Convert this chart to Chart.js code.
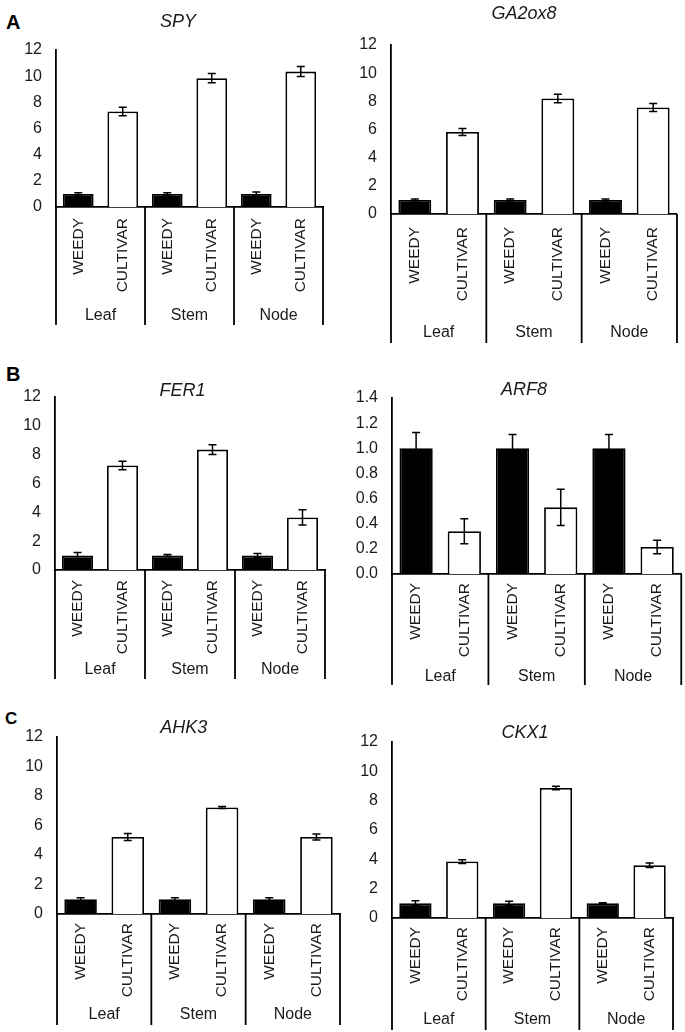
<!DOCTYPE html>
<html>
<head>
<meta charset="utf-8">
<script src="https://cdn.jsdelivr.net/npm/chart.js@4"></script>
<style>
  body { margin: 0; background: #fff; width: 685px; height: 1032px; position: relative; overflow: hidden;
         font-family: 'Liberation Sans', Arial, sans-serif; }
  canvas { position: absolute; }
  .tag { position: absolute; font-weight: bold; color: #000; line-height: 1; }
  .gene { position: absolute; width: 140px; text-align: center; font-style: italic; font-size: 18px;
          line-height: 1; color: #1a1a1a; }
</style>
</head>
<body>
<div class="tag" style="left:6px;top:12px;font-size:20px">A</div>
<div class="tag" style="left:6px;top:364px;font-size:20px">B</div>
<div class="tag" style="left:5px;top:710px;font-size:17px">C</div>

<canvas id="spy"></canvas>
<canvas id="ga2ox8"></canvas>
<canvas id="fer1"></canvas>
<canvas id="arf8"></canvas>
<canvas id="ahk3"></canvas>
<canvas id="ckx1"></canvas>

<script>
// categories
const groups = ['Leaf', 'Stem', 'Node'];
const genotypes = ['WEEDY', 'CULTIVAR'];

// relative expression, mean and error per tissue (Leaf, Stem, Node)
const spyWeedy = [1.0, 1.0, 1.0];
const spyWeedyErr = [0.08, 0.08, 0.15];
const spyCultivar = [7.3, 9.85, 10.35];
const spyCultivarErr = [0.33, 0.36, 0.38];

const ga2ox8Weedy = [1.0, 1.0, 1.0];
const ga2ox8WeedyErr = [0.07, 0.07, 0.07];
const ga2ox8Cultivar = [5.82, 8.2, 7.56];
const ga2ox8CultivarErr = [0.25, 0.3, 0.28];

const fer1Weedy = [1.0, 1.0, 1.0];
const fer1WeedyErr = [0.22, 0.07, 0.15];
const fer1Cultivar = [7.25, 8.35, 3.65];
const fer1CultivarErr = [0.3, 0.33, 0.53];

const arf8Weedy = [1.0, 1.0, 1.0];
const arf8WeedyErr = [0.125, 0.11, 0.11];
const arf8Cultivar = [0.34, 0.53, 0.215];
const arf8CultivarErr = [0.1, 0.145, 0.053];

const ahk3Weedy = [1.0, 1.0, 1.0];
const ahk3WeedyErr = [0.1, 0.1, 0.1];
const ahk3Cultivar = [5.22, 7.22, 5.22];
const ahk3CultivarErr = [0.24, 0.06, 0.2];

const ckx1Weedy = [1.0, 1.0, 1.0];
const ckx1WeedyErr = [0.17, 0.15, 0.04];
const ckx1Cultivar = [3.85, 8.87, 3.6];
const ckx1CultivarErr = [0.13, 0.12, 0.15];

// y axis ticks
const yTicksMain = { max: 12, step: 2, digits: 0 };
const yTicksArf8 = { max: 1.4, step: 0.2, digits: 1 };

// where each panel sits on the page (pixels)
const layouts = {
  spy:    { left: 0,   top: 0,   width: 340, height: 330, axisX: 56,  plotRight: 323, plotTop: 50,  zeroY: 207, tickGap: 11, groupY: 316,  boxBottom: 325,  titleX: 178,   titleY: 21 },
  ga2ox8: { left: 340, top: 0,   width: 345, height: 345, axisX: 391, plotRight: 682, plotTop: 45,  zeroY: 214, tickGap: 13, groupY: 333,  boxBottom: 343,  titleX: 524,   titleY: 13 },
  fer1:   { left: 0,   top: 345, width: 340, height: 335, axisX: 55,  plotRight: 325, plotTop: 397, zeroY: 570, tickGap: 10, groupY: 670,  boxBottom: 679,  titleX: 182.5, titleY: 390 },
  arf8:   { left: 340, top: 345, width: 345, height: 340, axisX: 392, plotRight: 682, plotTop: 398, zeroY: 574, tickGap: 9,  groupY: 677,  boxBottom: 685,  titleX: 524,   titleY: 389 },
  ahk3:   { left: 0,   top: 690, width: 345, height: 342, axisX: 57,  plotRight: 340, plotTop: 737, zeroY: 914, tickGap: 9,  groupY: 1015, boxBottom: 1025, titleX: 183.7, titleY: 727 },
  ckx1:   { left: 340, top: 690, width: 345, height: 342, axisX: 392, plotRight: 673, plotTop: 742, zeroY: 918, tickGap: 9,  groupY: 1020, boxBottom: 1030, titleX: 525,   titleY: 732 }
};

const FONT = "'Liberation Sans', Arial, sans-serif";
const TEXT = '#1a1a1a';
const LINE = 1.8;

const errorBars = {
  id: 'errorBars',
  afterDatasetsDraw(chart) {
    const ctx = chart.ctx, y = chart.scales.y;
    ctx.save();
    ctx.strokeStyle = '#000';
    ctx.lineWidth = 1.5;
    chart.data.datasets.forEach((ds, di) => {
      chart.getDatasetMeta(di).data.forEach((bar, i) => {
        const v = ds.data[i], e = ds.errors[i];
        const hi = y.getPixelForValue(v + e), lo = y.getPixelForValue(v - e);
        ctx.beginPath();
        ctx.moveTo(bar.x, hi); ctx.lineTo(bar.x, lo);
        ctx.moveTo(bar.x - 4, hi); ctx.lineTo(bar.x + 4, hi);
        ctx.moveTo(bar.x - 4, lo); ctx.lineTo(bar.x + 4, lo);
        ctx.stroke();
      });
    });
    ctx.restore();
  }
};

// boxes round each tissue group, under the axis
const groupBox = {
  id: 'groupBox',
  afterDraw(chart) {
    const ctx = chart.ctx, x = chart.scales.x, x2 = chart.scales.x2;
    ctx.save();
    ctx.strokeStyle = '#000';
    ctx.lineWidth = LINE;
    for (let g = 0; g <= groups.length; g++) {
      const px = x.getPixelForValue(g * genotypes.length - 0.5);
      ctx.beginPath();
      ctx.moveTo(px, chart.chartArea.bottom);
      ctx.lineTo(px, x2.bottom);
      ctx.stroke();
    }
    ctx.restore();
  }
};

function drawPanel(id, title, weedy, weedyErr, cultivar, cultivarErr, yTicks) {
  const b = layouts[id];
  const canvas = document.getElementById(id);
  canvas.width = b.width;
  canvas.height = b.height;
  canvas.style.left = b.left + 'px';
  canvas.style.top = b.top + 'px';

  const head = document.createElement('div');
  head.className = 'gene';
  head.textContent = title;
  head.style.left = (b.titleX - 70) + 'px';
  head.style.top = (b.titleY - 8.75) + 'px';
  document.body.appendChild(head);

  const yWidth = b.axisX - b.left;
  const x2Top = b.groupY - 9.6;

  const labels = groups.flatMap(() => genotypes);
  const values = [], errors = [], fills = [];
  groups.forEach((g, i) => {
    values.push(weedy[i], cultivar[i]);
    errors.push(weedyErr[i], cultivarErr[i]);
    fills.push('#000', '#fff');
  });

  new Chart(canvas.getContext('2d'), {
    type: 'bar',
    data: {
      labels: labels,
      datasets: [{
        data: values,
        errors: errors,
        backgroundColor: fills,
        borderColor: '#000',
        borderWidth: LINE,
        barPercentage: 0.69,
        categoryPercentage: 1
      }]
    },
    options: {
      responsive: false,
      animation: false,
      layout: {
        padding: {
          left: 0,
          right: b.left + b.width - b.plotRight,
          top: b.plotTop - b.top,
          bottom: b.top + b.height - b.boxBottom
        }
      },
      plugins: {
        legend: { display: false },
        tooltip: { enabled: false }
      },
      scales: {
        y: {
          min: 0,
          max: yTicks.max,
          grid: { display: false, drawTicks: false },
          border: { display: true, color: '#000', width: LINE },
          ticks: {
            stepSize: yTicks.step,
            padding: 14,
            color: TEXT,
            font: { family: FONT, size: 16 },
            callback: v => v.toFixed(yTicks.digits)
          },
          afterFit: s => { s.width = yWidth; }
        },
        x: {
          weight: 0,
          grid: { display: false, drawTicks: false },
          border: { display: true, color: '#000', width: LINE },
          ticks: {
            minRotation: 90,
            maxRotation: 90,
            autoSkip: false,
            padding: b.tickGap,
            color: TEXT,
            font: { family: FONT, size: 15.5 }
          },
          afterFit: s => { s.height = x2Top - b.zeroY; }
        },
        x2: {
          type: 'category',
          position: 'bottom',
          weight: 1,
          labels: groups,
          offset: true,
          grid: { display: false, drawTicks: false },
          border: { display: false },
          ticks: { padding: 0, color: TEXT, font: { family: FONT, size: 16 } },
          afterFit: s => { s.height = b.boxBottom - x2Top; }
        }
      }
    },
    plugins: [errorBars, groupBox]
  });
}

drawPanel('spy', 'SPY', spyWeedy, spyWeedyErr, spyCultivar, spyCultivarErr, yTicksMain);
drawPanel('ga2ox8', 'GA2ox8', ga2ox8Weedy, ga2ox8WeedyErr, ga2ox8Cultivar, ga2ox8CultivarErr, yTicksMain);
drawPanel('fer1', 'FER1', fer1Weedy, fer1WeedyErr, fer1Cultivar, fer1CultivarErr, yTicksMain);
drawPanel('arf8', 'ARF8', arf8Weedy, arf8WeedyErr, arf8Cultivar, arf8CultivarErr, yTicksArf8);
drawPanel('ahk3', 'AHK3', ahk3Weedy, ahk3WeedyErr, ahk3Cultivar, ahk3CultivarErr, yTicksMain);
drawPanel('ckx1', 'CKX1', ckx1Weedy, ckx1WeedyErr, ckx1Cultivar, ckx1CultivarErr, yTicksMain);
</script>
</body>
</html>
